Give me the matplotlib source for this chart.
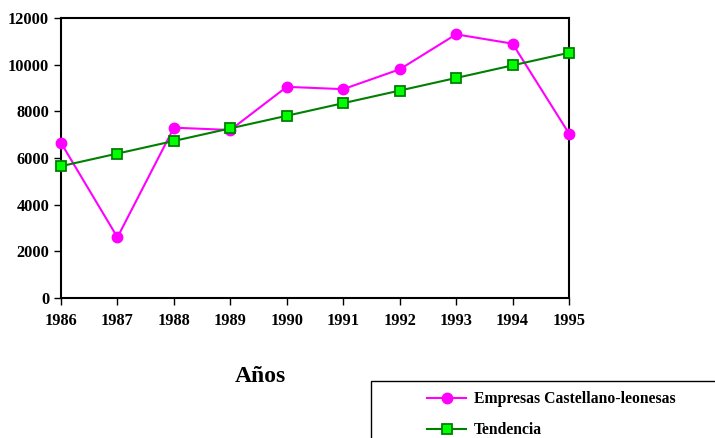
import matplotlib
matplotlib.use("Agg")
import matplotlib.pyplot as plt
from matplotlib.patches import Rectangle

# data
years = [1986, 1987, 1988, 1989, 1990, 1991, 1992, 1993, 1994, 1995]
empresas = [6650, 2600, 7300, 7200, 9050, 8950, 9800, 11300, 10900, 7050]
tendencia = [5650, 6190, 6730, 7270, 7810, 8350, 8890, 9430, 9970, 10510]
yticks = [0, 2000, 4000, 6000, 8000, 10000, 12000]

plt.rcParams['font.family'] = ['Liberation Serif', 'DejaVu Serif']
plt.rcParams['font.weight'] = 'bold'

fig = plt.figure(figsize=(7.15, 4.38), dpi=100)
ax = fig.add_axes([61 / 715, 140 / 438, 508 / 715, 280 / 438])

l1, = ax.plot(years, empresas, color='#ff00ff', lw=1.5, marker='o',
              markersize=7.5, markerfacecolor='#ff00ff', markeredgecolor='#ff00ff',
              label='Empresas Castellano-leonesas', clip_on=False, zorder=3)
l2, = ax.plot(years, tendencia, color='#008000', lw=1.5, marker='s',
              markersize=7, markerfacecolor='#00ff00', markeredgecolor='#008000',
              markeredgewidth=1.3, label='Tendencia', clip_on=False, zorder=4)

ax.set_xlim(years[0], years[-1])
ax.set_ylim(0, 12000)
ax.set_xticks(years)
ax.set_yticks(yticks)
for s in ax.spines.values():
    s.set_linewidth(1.5)
ax.tick_params(axis='both', direction='out', length=5, width=1,
               labelsize=11.8, colors='black')
ax.tick_params(axis='x', pad=6)
for lab in ax.get_xticklabels() + ax.get_yticklabels():
    lab.set_fontweight('bold')

fig.text(260 / 715, 1 - 377 / 438, 'Años', ha='center', va='center',
         fontsize=17, fontweight='bold')

# legend box that runs off the right and bottom edge
fig.patches.append(Rectangle((371 / 715, -0.1), 0.6, 1 - 381 / 438 + 0.1,
                             transform=fig.transFigure, fill=False,
                             edgecolor='black', lw=1))
fig.legend(handles=[l1, l2], loc='upper left',
           bbox_to_anchor=(427 / 715, 1 - 391 / 438), frameon=False,
           handlelength=2.5, labelspacing=0.97, borderpad=0, borderaxespad=0,
           handletextpad=0.5, prop={'weight': 'bold', 'size': 11.3})

fig.savefig('out.png', dpi=100)
